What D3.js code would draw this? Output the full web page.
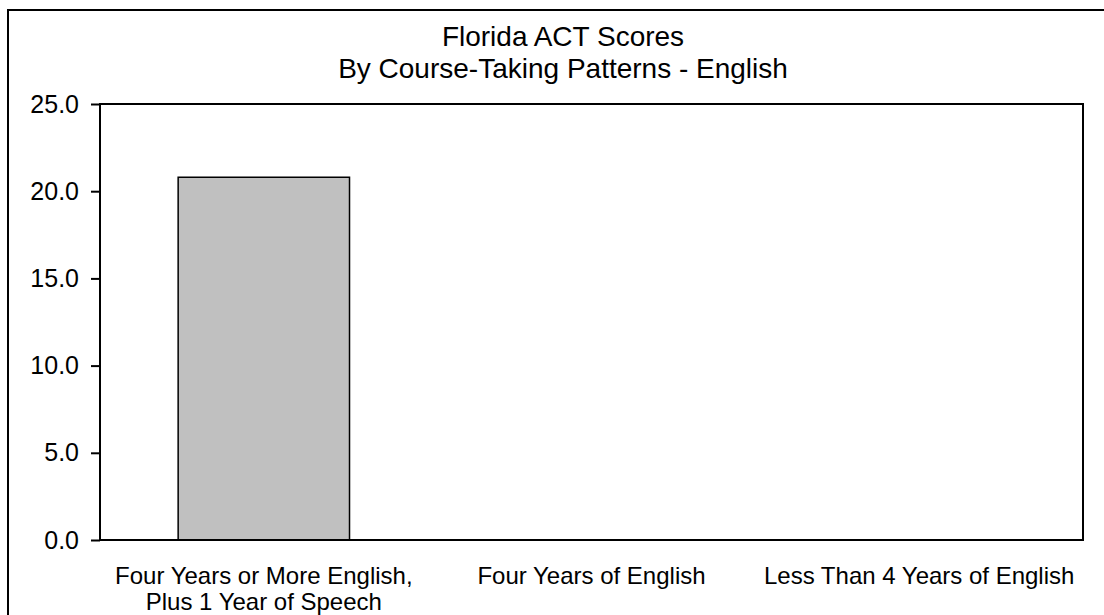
<!DOCTYPE html>
<html>
<head>
<meta charset="utf-8">
<script src="https://d3js.org/d3.v7.min.js"></script>
<style>
  body { margin: 0; background: #fff; }
  text { font-family: "Liberation Sans", Arial, sans-serif; fill: #000; }
</style>
</head>
<body>
<svg id="vis"></svg>
<script>
  // chart data
  var categories = [
    ["Four Years or More English,", "Plus 1 Year of Speech"],
    ["Four Years of English"],
    ["Less Than 4 Years of English"]
  ];
  var scores = [20.8, 0, 0];
  var yTicks = [0, 5, 10, 15, 20, 25];
  var titleLines = ["Florida ACT Scores", "By Course-Taking Patterns - English"];

  var W = 1104, H = 615;
  var svg = d3.select("#vis").attr("width", W).attr("height", H);

  // outer frame (runs off the right and bottom edge)
  svg.append("rect")
      .attr("x", 8).attr("y", 10)
      .attr("width", 1200).attr("height", 700)
      .attr("fill", "none").attr("stroke", "#000").attr("stroke-width", 2);

  var plotLeft = 100, plotRight = 1083, plotTop = 104, plotBottom = 540;

  var x = d3.scaleBand()
      .domain(d3.range(categories.length))
      .range([plotLeft, plotRight])
      .paddingInner(0.477)
      .paddingOuter(0.2385);

  var y = d3.scaleLinear()
      .domain([0, 25])
      .range([plotBottom, plotTop]);

  // title
  svg.selectAll(".title")
      .data(titleLines)
      .enter().append("text")
      .attr("class", "title")
      .attr("x", 563)
      .attr("y", function(d, i) { return 46 + i * 32; })
      .attr("text-anchor", "middle")
      .style("font-size", "28px")
      .text(function(d) { return d; });

  // bars
  svg.selectAll(".bar")
      .data(scores)
      .enter().append("rect")
      .attr("class", "bar")
      .attr("x", function(d, i) { return x(i); })
      .attr("y", function(d) { return y(d); })
      .attr("width", x.bandwidth())
      .attr("height", function(d) { return plotBottom - y(d); })
      .attr("fill", "#c0c0c0")
      .attr("stroke", "#000")
      .attr("stroke-width", function(d) { return d > 0 ? 1.5 : 0; });

  // plot frame
  svg.append("rect")
      .attr("x", plotLeft).attr("y", plotTop)
      .attr("width", plotRight - plotLeft).attr("height", plotBottom - plotTop)
      .attr("fill", "none").attr("stroke", "#000").attr("stroke-width", 2);

  // y axis
  var yAxis = d3.axisLeft(y)
      .tickValues(yTicks)
      .tickSize(9)
      .tickPadding(12)
      .tickFormat(d3.format(".1f"));

  var gy = svg.append("g")
      .attr("transform", "translate(" + plotLeft + ",0)")
      .call(yAxis);
  gy.select(".domain").remove();
  gy.selectAll(".tick line").attr("stroke", "#000").attr("stroke-width", 2);
  gy.selectAll(".tick text")
      .style("font-size", "25px")
      .style("font-family", "'Liberation Sans', Arial, sans-serif");

  // category labels
  var cat = svg.selectAll(".cat")
      .data(categories)
      .enter().append("text")
      .attr("class", "cat")
      .attr("text-anchor", "middle")
      .style("font-size", "24px");
  cat.selectAll("tspan")
      .data(function(d, i) { return d.map(function(s) { return { s: s, i: i }; }); })
      .enter().append("tspan")
      .attr("x", function(d) { return x(d.i) + x.bandwidth() / 2; })
      .attr("y", function(d, j) { return 584 + j * 26; })
      .text(function(d) { return d.s; });
</script>
</body>
</html>
